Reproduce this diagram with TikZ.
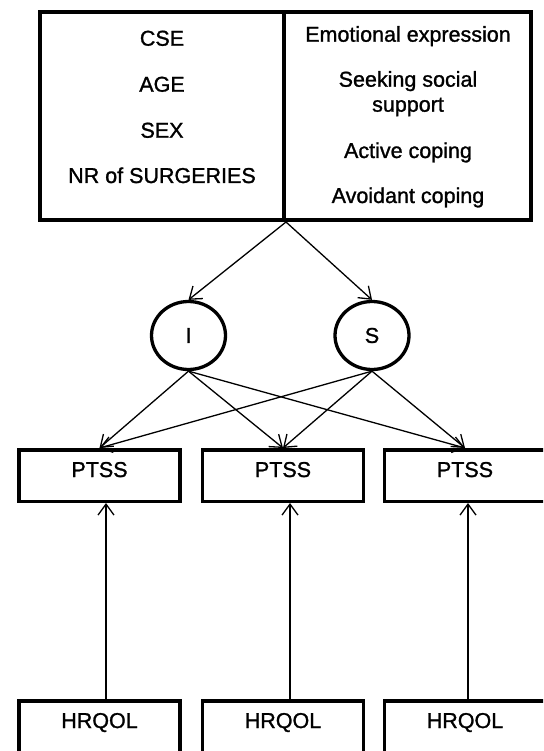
\documentclass[tikz,border=0pt]{standalone}
\usepackage{fontspec}
\setmainfont[FakeBold=1.2]{Liberation Sans}
\usetikzlibrary{arrows.meta,shapes.geometric}

\begin{document}
\begin{tikzpicture}[x=1pt,y=-1pt,
    frame/.style={draw,line width=4pt,minimum height=208pt,inner sep=0pt},
    box/.style={draw,line width=3.5pt,minimum width=161pt,minimum height=51.5pt,inner sep=0pt,text depth=12pt,
      font=\fontsize{21.5}{25}\selectfont},
    latent/.style={draw,ellipse,line width=3.3pt,minimum width=74pt,minimum height=68pt,inner sep=0pt,
      font=\fontsize{21.5}{25}\selectfont},
    lbl/.style={font=\fontsize{21.5}{25}\selectfont,anchor=base,inner sep=0pt},
    link/.style={-{Straight Barb[length=11pt,width=16pt]},line width=1.3pt}]
	\useasboundingbox (0,0) rectangle (543,751);
	\clip (0,0) rectangle (543,751);
		\node (covar) at (162,116) [frame,minimum width=244pt] {};
		\node (coping) at (407.5,116) [frame,minimum width=247pt] {};
		\node (cse) at (162,45.7) [lbl] {CSE};
		\node (age) at (162,91.7) [lbl] {AGE};
		\node (sex) at (162,137.7) [lbl] {SEX};
		\node (nrsurg) at (162,183) [lbl] {NR of SURGERIES};
		\node (emo) at (408,41.7) [lbl] {Emotional expression};
		\node (seek) at (408,86.7) [lbl] {Seeking social};
		\node (supp) at (408,111.7) [lbl] {support};
		\node (active) at (408,158) [lbl] {Active coping};
		\node (avoid) at (408,203) [lbl] {Avoidant coping};
		\coordinate (apex) at (covar.south east);
		\node (int) at (188.5,335.5) [latent] {I};
		\node (slope) at (372,335.5) [latent] {S};
		\foreach \x [count=\i] in {99.5,283,465} {
			\node (ptss\i) at (\x,475.5) [box] {PTSS};
			\node (hrqol\i) at (\x,726.5) [box] {HRQOL};
		}
		\draw [link] (apex) -- (int.north);
		\draw [link] (apex) -- (slope.north);
		\foreach \i in {1,2,3} {
			\draw [link] (int.south) -- (ptss\i.north);
			\draw [link] (slope.south) -- (ptss\i.north);
		}
		\foreach \i/\dx in {1/6.5,2/7,3/3}
			\draw [link] ([xshift=\dx pt]hrqol\i.north) -- ([xshift=\dx pt]ptss\i.south);
	\end{tikzpicture}
\end{document}
